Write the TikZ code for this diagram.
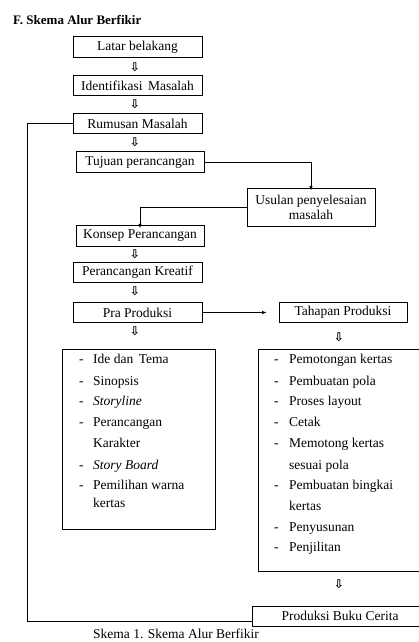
\documentclass[tikz,border=0pt]{standalone}
\usepackage{fontspec}
\setmainfont{Liberation Serif}
\newfontfamily\symfont{DejaVu Sans}
\usetikzlibrary{arrows.meta}
\begin{document}
\begin{tikzpicture}[x=1pt,y=-1pt,
  every node/.style={font=\fontsize{13.5}{15}\selectfont, inner sep=0pt},
  box/.style={draw, line width=0.8pt, minimum width=129pt, minimum height=20.5pt, align=center},
  frame/.style={draw, line width=0.8pt},
  link/.style={line width=0.8pt, -{Latex[length=4.5pt,width=3.5pt]}},
  loopline/.style={line width=0.8pt},
  harrow/.style={font=\symfont\bfseries\fontsize{12}{12}\selectfont},
  item/.style={anchor=west, text height=9pt, text depth=3pt}
]
\useasboundingbox (0,0) rectangle (419,642);
\fill[white] (0,0) rectangle (419,642);

\node[anchor=west, font=\bfseries\fontsize{13}{14}\selectfont] (title) at (13,20) {F. Skema Alur Berfikir};

\node[box] (lb) at (137.5,47) {Latar belakang};
\node[box] (im) at (137.5,85.5) {Identifikasi\, Masalah};
\node[box] (rm) at (137.5,123.5) {Rumusan Masalah};
\node[box, minimum width=128pt] (tp) at (140,162) {Tujuan perancangan};
\node[box, minimum width=128pt, minimum height=38pt, font=\fontsize{13.5}{15}\selectfont] (us) at (311,207) {Usulan penyelesaian\\masalah};
\node[box, minimum width=128pt] (kp) at (140,236) {Konsep Perancangan};
\node[box] (pk) at (137.5,272.5) {Perancangan Kreatif};
\node[box] (pp) at (137.5,312.5) {Pra Produksi};
\node[box, minimum width=128pt] (th) at (343,312.5) {Tahapan Produksi};

\node[harrow] (a1) at (135,67) {⇩};
\node[harrow] (a2) at (135,104) {⇩};
\node[harrow] (a3) at (135,142) {⇩};
\node[harrow] (a4) at (135,254) {⇩};
\node[harrow] (a5) at (135,291) {⇩};
\node[harrow] (a6) at (135,331) {⇩};
\node[harrow] (a7) at (339,337) {⇩};
\node[harrow] (a8) at (339,584) {⇩};

% list boxes
\draw[frame] (62,349) rectangle (215,529);
\draw[frame] (258,349) rectangle (430,571);
\draw[frame] (252,606) rectangle (430,626);
\node (pbc) at (340,616) {Produksi Buku Cerita};
\coordinate (pbcw) at (252,621);

% left list
\foreach \y in {360,382,402,423,466,486} \node[item] at (79,\y) {-};
\node[item] (l1) at (93,360) {Ide dan\, Tema};
\node[item] (l2) at (93,382) {Sinopsis};
\node[item] (l3) at (93,402) {\itshape Storyline};
\node[item] (l4) at (93,423) {Perancangan};
\node[item] (l5) at (93,444) {Karakter};
\node[item] (l6) at (93,466) {\itshape Story Board};
\node[item] (l7) at (93,486) {Pemilihan warna};
\node[item] (l8) at (93,504) {kertas};

% right list
\foreach \y in {360,382,402,423,444,486,528,548} \node[item] at (274,\y) {-};
\node[item] (r1) at (289,360) {Pemotongan kertas};
\node[item] (r2) at (289,382) {Pembuatan pola};
\node[item] (r3) at (289,402) {Proses layout};
\node[item] (r4) at (289,423) {Cetak};
\node[item] (r5) at (289,444) {Memotong kertas};
\node[item] (r6) at (289,466) {sesuai pola};
\node[item] (r7) at (289,486) {Pembuatan bingkai};
\node[item] (r8) at (289,507) {kertas};
\node[item] (r9) at (289,528) {Penyusunan};
\node[item] (r10) at (289,548) {Penjilitan};

% connectors
\draw[link] (tp.east) -| ([yshift=-3pt]us.north);
\draw[link] (us.west) -| ([yshift=-3pt]kp.north);
\draw[link, shorten >=12pt] (pp.east) -- (th.west);
\coordinate (c1) at (27,123.5);
\coordinate (c2) at (27,621);
\draw[loopline] (rm.west) -- (c1) -- (c2) -- (pbcw);

\node[anchor=west, text height=9pt, text depth=2pt] (cap) at (93,635) {Skema 1. Skema Alur Berfikir};
\end{tikzpicture}
\end{document}
